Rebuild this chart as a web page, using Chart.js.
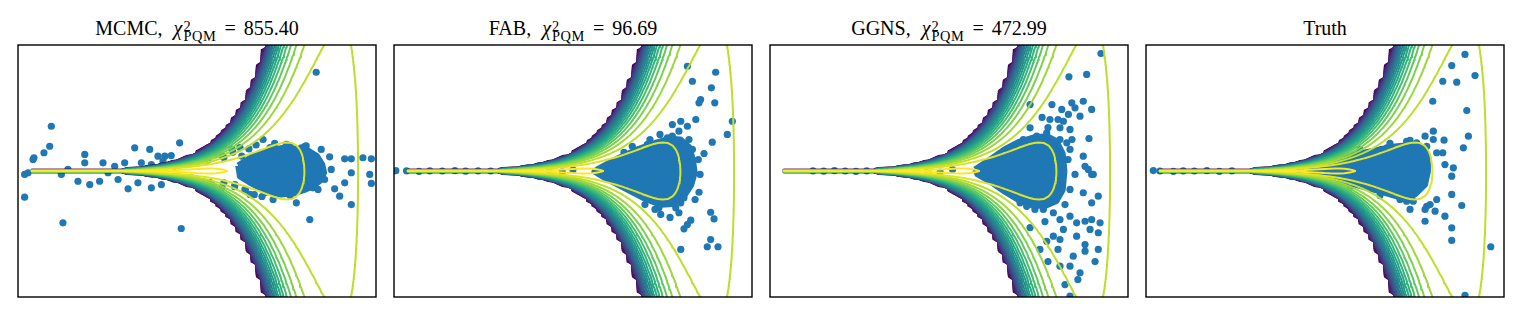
<!DOCTYPE html>
<html><head><meta charset="utf-8">
<script src="https://cdn.jsdelivr.net/npm/chart.js@4.4.0/dist/chart.umd.min.js"></script>
<style>
html,body{margin:0;padding:0;background:#fff;width:1522px;height:317px;overflow:hidden;position:relative}
.panel{position:absolute;width:366px;height:260px}
.title{position:absolute;top:18px;width:358px;text-align:center;font-family:'Liberation Serif','DejaVu Serif',serif;font-size:20px;line-height:20px;color:#000;white-space:nowrap}
.title i{font-style:italic;margin-left:11px}
.ss{position:relative;display:inline-block;font-size:0.72em;line-height:20px;margin-left:1px;letter-spacing:0.6px}
.ss .sub{position:relative;top:5.5px}
.ss .sup{position:absolute;left:0;top:-4.5px;line-height:20px}
.eq{margin:0 8px}
</style></head>
<body>
<script>
// ---------------- data ----------------
const V_LIMITS = [-10, 10];
const X_LIMITS = [-80, 80];
const LEVELS = [-81,-77,-73,-69,-65,-61,-57,-53,-49,-45,-41,-37,-33,-29,-25,-21,-17,-13,-9,-5,-1];
const METHODS = ["MCMC", "FAB", "GGNS", "Truth"];
const CHI2 = ["855.40", "96.69", "472.99", null];

const MCMC_SAMPLES = [[-8.14,28.4],[-8.23,15.7],[-8.55,11.6],[-9.11,8.4],[-6.27,10.5],[-3.48,14.7],[-2.64,13.7],[-0.97,17.9],[6.66,62.7],[3.69,20],[4.34,17.5],[5.83,14.7],[6.94,13.7],[7.41,9.0],[8.25,7.7],[8.62,7.7],[9.27,8.4],[9.74,7.7],[-2.18,9.4],[-1.8,9.4],[-1.44,9.8],[3.78,10.5],[4.43,9.4],[5.46,10.5],[5.64,9.0],[-9.63,-2.2],[-9.44,-1.1],[-9.63,-16.6],[-7.49,-32.9],[-0.88,-36.5],[6.30,-30.8],[8.62,-21.3],[7.97,-16],[5.55,-20.2],[4.25,-18.1],[3.78,-13.8],[4.53,-11.7],[5.08,-12.8],[9.74,-7.9],[9.65,-2.2],[7.69,-11.3],[6.48,-10.7],[6.76,-11.7],[7.13,-5.4],[7.50,1.0],[8.25,-7.5],[8.62,-1.1],[-7.58,-2.2],[-7.21,1],[-6.65,-6.5],[-5.99,-8.6],[-5.44,-6.5],[-4.97,-1.1],[-4.41,-5.4],[-3.85,-11.3],[-3.3,-7.5],[-2.55,-10.7],[-1.99,-8.6],[-1.25,-5.4],[-0.32,-4.3],[-9.16,7.3],[-6.27,5.2],[-5.25,5.2],[-4.6,3],[-4.04,5.2],[-3.11,5.2],[-2.55,4.1],[-1.9,6.2],[-1.25,3],[-0.3,8.5],[0.2,10.5],[0.6,7],[1.0,11],[1.5,8.5],[2.0,12],[2.5,9.5],[0.3,-7],[0.9,-9.5],[1.5,-7.5],[2.1,-10],[2.7,-12],[3.2,-15],[2.9,14],[3.3,16.5],[5.0,17],[6.1,16],[0.34,9.2],[0.84,11.7],[1.4,9.8],[1.96,13.7],[2.4,14.9],[0.17,-9.2],[0.73,-7.3],[1.4,-10.5],[2.12,-8.6],[2.68,-11.7],[2.96,-14.9],[3.63,-16.2],[5.2,-15.6],[5.75,-11.7],[6.3,-6.7],[6.76,-2.2],[6.87,4.1],[6.03,15.6],[5.2,16.2],[4.08,14.9]];
const MCMC_BULK = [[2.3,3.5],[3.0,8.5],[3.6,12],[4.3,13.5],[4.9,15],[5.6,14],[6.2,13],[6.7,9.5],[7.0,4],[7.1,-1],[6.9,-6],[6.5,-9.5],[6.0,-12],[5.3,-14.5],[4.7,-15],[4.0,-13],[3.4,-10],[2.9,-7],[2.4,-3.5]];

const FAB_SAMPLES = [[6.39,66.5],[7.97,62.7],[6.67,57.0],[7.73,52.8],[7.13,45.4],[7.04,43.3],[7.92,43.3],[8.9,31.6],[8.62,23.2],[6.86,32.7],[6.02,31.6],[5.55,29.5],[6.39,28.4],[5.92,25.3],[6.48,20],[5.55,22.1],[5.27,21.1],[6.67,13.7],[7.32,11.1],[7.78,18.3],[4.15,16.8],[3.31,15.7],[2.85,11.9],[7.04,-13.5],[6.2,-17],[6.02,-20.2],[5.74,-23.4],[4.8,-23.4],[4.9,-27.6],[5.92,-26.5],[6.58,-31.2],[6.39,-34],[6.2,-36.7],[7.69,-26.2],[7.88,-30.4],[6.02,-49.8],[7.69,-43.5],[7.5,-48.1],[8.1,-48.1],[6.58,-7.5],[6.39,-3.3],[4.86,23.2],[4.3,20],[4.58,-24.4],[4.02,-21.3],[5.42,-29.5],[6.82,-18.1],[7.1,-2.2],[7.0,7.3],[-9.9,0.2],[-9.3,0.1],[-8.6,-0.2],[-8.0,0.1],[-7.3,0],[-6.6,0.2],[-6.0,-0.1],[-5.3,0.1],[-4.6,0],[-4.0,0.2],[-3.3,-0.2],[-2.6,0.3],[-2.0,-0.4],[-1.3,0.5],[-0.6,-0.6],[0.0,0.8]];
const FAB_BULK = [[1.5,2],[2.6,8.6],[3.6,13.7],[4.6,17.8],[5.4,20.5],[6.0,20],[6.5,15],[6.7,7],[6.8,-1],[6.6,-9],[6.2,-16],[5.6,-21],[4.9,-21.5],[4.0,-17.5],[2.9,-11],[1.8,-4.5],[1.2,-0.3]];

const GGNS_SAMPLES = [[8.49,74.6],[7.69,61.3],[6.7,59.8],[6.86,43.3],[7.5,44.3],[7.04,40.1],[7.97,39.1],[7.32,34.8],[7.82,20.6],[6.3,39.1],[6.39,31.6],[6.67,35.9],[5.64,32.7],[6.2,27.4],[5.46,24.3],[4.53,27.4],[6.76,26.4],[6.2,20],[6.58,17.9],[6.76,13.7],[7.5,9.4],[7.6,3],[8.06,-2.2],[7.78,1],[4.9,22.1],[4.15,20],[3.97,-20.2],[4.34,-22.4],[5.27,-24.4],[5.83,-26.5],[6.2,-30.8],[6.76,-28.7],[7.13,-32.9],[6.39,-37.1],[5.83,-41.4],[5.46,-44.6],[6.2,-43.5],[7.13,-41.4],[7.6,-31.9],[7.97,-30.8],[8.44,-32.9],[8.34,-39.2],[7.88,-37.1],[7.6,-50.9],[8.34,-49.8],[6.94,-54.1],[6.76,-60.4],[7.32,-64.6],[6.2,-60.4],[6.48,-72.1],[6.76,-79.5],[8.34,-16],[7.97,-20.2],[7.5,-13.8],[7.97,-2.2],[4.53,42.2],[5.2,34],[5.75,42.2],[6.09,32.7],[5.53,27.6],[4.86,20],[6.87,20],[6.65,7.3],[7.04,-2.2],[6.76,-11.7],[6.48,-21.3],[4.8,-24.4],[5.36,-32.1],[4.53,-35.9],[6.09,-49.8],[5.08,-49.8],[5.53,-57.5],[7.6,-46.7],[8.16,-57.5],[7.2,-68.9],[-7.6,0.1],[-7.0,-0.1],[-6.4,0.2],[-5.8,0],[-5.2,-0.2],[-4.6,0.1],[-4.0,0.3],[-3.3,-0.3],[-2.6,0.4],[-1.9,-0.5],[-1.2,0.6],[-0.5,-0.7],[0.2,0.9]];
const GGNS_BULK = [[1.45,1],[2.3,7.3],[3.1,13.7],[3.9,18.5],[4.8,21.5],[5.5,22],[6.0,19],[6.35,11],[6.45,0],[6.35,-12],[6.0,-19],[5.4,-22],[4.7,-22],[3.9,-18.5],[3.1,-13],[2.3,-6.7],[1.6,-2.2]];

const TRUTH_SAMPLES = [[7.82,74],[7.08,67],[8.38,60.6],[6.58,57],[7.36,56.4],[6.02,44.3],[7.92,38.4],[8.01,22.1],[7.73,14.7],[6.05,25.3],[5.59,22.1],[6.05,20],[6.65,19.6],[6.58,11.6],[6.24,11.6],[5.68,15.7],[5.12,17.9],[4.56,18.9],[3.45,14.7],[3.17,13.7],[6.7,4.1],[7.17,2],[7.08,-3.3],[7.08,-14.9],[6.24,-18.1],[5.87,-21.3],[5.68,-22.4],[4.93,-19.2],[7.64,-21.9],[4.75,-24.4],[5.59,-24.4],[6.15,-25.5],[6.7,-28.7],[5.59,-31.9],[7.08,-36.1],[7.08,-44.1],[9.26,-48.1],[7.82,-79],[4.56,-19.2],[4.84,-16],[-1.4,4.1],[0.28,8.6],[1.96,13.7],[3.63,17.5],[4.75,19.4],[1.4,-10.5],[3.07,-15.6],[4.19,-18.1],[-9.59,0.3],[-9.22,0],[-8.47,-0.2],[-7.92,0.1],[-7.3,0],[-6.6,0.2],[-5.9,-0.2],[-5.2,0.1]];
const TRUTH_BULK = [[-2.51,1],[-1.96,2.9],[-0.84,5.4],[0.84,8.6],[2.51,12.4],[3.91,15.6],[5.03,16.8],[5.59,13.7],[5.75,7.3],[5.75,-0.3],[5.59,-8.6],[5.03,-14.9],[4.19,-16.8],[3.07,-13],[1.68,-8.6],[0.28,-5.4],[-1.12,-2.9],[-2.23,-1.6]];

const SAMPLES = [MCMC_SAMPLES, FAB_SAMPLES, GGNS_SAMPLES, TRUTH_SAMPLES];
const BULKS = [MCMC_BULK, FAB_BULK, GGNS_BULK, TRUTH_BULK];

// ---------------- style / layout ----------------
const PANEL_LEFT = [18, 394, 770, 1146];
const PANEL_W = 358, PANEL_H = 252, PANEL_TOP = 45, PAD = 4;
const SAMPLE_COLOR = '#1f77b4';
const VIRIDIS = ['#440154','#482878','#3e4989','#31688e','#26828e','#1f9e89','#35b779','#6ece58','#b5de2b','#fde725'];
// evaluation grid of the funnel log-density (tail values clamped)
const GRID = {v0: -9.23, v1: 9.20, nv: 67, x0: -81.6, x1: 81.6, nx: 103, floorAt: -84, floorVal: -170};

function hex(c){return [1,3,5].map(i=>parseInt(c.substr(i,2),16));}
function viridis(t){
  t = Math.max(0, Math.min(1, t));
  const s = t*(VIRIDIS.length-1), i = Math.min(VIRIDIS.length-2, Math.floor(s)), f = s - i;
  const a = hex(VIRIDIS[i]), b = hex(VIRIDIS[i+1]);
  return 'rgb(' + a.map((v,k)=>Math.round(v+(b[k]-v)*f)).join(',') + ')';
}
function logDensity(v, x){ return -v*v/18 - v/2 - x*x/(2*Math.exp(v)); }

function buildGrid(){
  const vs=[], xs=[];
  for(let j=0;j<GRID.nv;j++) vs.push(GRID.v0 + j*(GRID.v1-GRID.v0)/(GRID.nv-1));
  for(let i=0;i<GRID.nx;i++) xs.push(GRID.x0 + i*(GRID.x1-GRID.x0)/(GRID.nx-1));
  const g = xs.map(x => vs.map(v => { const f = logDensity(v,x); return f < GRID.floorAt ? GRID.floorVal : f; }));
  return {vs, xs, g};
}
const GAP = {x: NaN, y: NaN};
function contourPoints(G, level){
  const {vs, xs, g} = G, out = [];
  for(let i=0;i<xs.length-1;i++) for(let j=0;j<vs.length-1;j++){
    const c = [{x:vs[j],y:xs[i],f:g[i][j]},{x:vs[j+1],y:xs[i],f:g[i][j+1]},{x:vs[j+1],y:xs[i+1],f:g[i+1][j+1]},{x:vs[j],y:xs[i+1],f:g[i+1][j]}];
    const pts = [];
    for(let e=0;e<4;e++){
      const a=c[e], b=c[(e+1)%4];
      if((a.f>=level)!==(b.f>=level)){
        const t=(level-a.f)/(b.f-a.f);
        pts.push({x:a.x+t*(b.x-a.x), y:a.y+t*(b.y-a.y)});
      }
    }
    if(pts.length===2){ out.push(pts[0],pts[1],GAP); }
    else if(pts.length===4){
      const center=(c[0].f+c[1].f+c[2].f+c[3].f)/4;
      if((center>=level)===(c[0].f>=level)) out.push(pts[0],pts[1],GAP,pts[2],pts[3],GAP);
      else out.push(pts[0],pts[3],GAP,pts[1],pts[2],GAP);
    }
  }
  return out;
}
const G = buildGrid();
const CONTOURS = LEVELS.map(L => contourPoints(G, L));
const lmin = Math.min(...LEVELS), lmax = Math.max(...LEVELS);

const framePlugin = {id:'frame', afterDraw(chart){
  const {ctx, chartArea:a} = chart; ctx.save(); ctx.strokeStyle='#000'; ctx.lineWidth=1.4;
  ctx.strokeRect(a.left, a.top, a.right-a.left, a.bottom-a.top); ctx.restore();
}};

METHODS.forEach((name, p) => {
  const left = PANEL_LEFT[p];
  const title = document.createElement('div');
  title.className = 'title';
  title.style.left = left + 'px';
  title.innerHTML = CHI2[p] === null ? name :
    name + ',<i>χ</i><span class="ss"><span class="sup">2</span><span class="sub">PQM</span></span><span class="eq">=</span>' + CHI2[p];
  document.body.appendChild(title);

  const wrap = document.createElement('div');
  wrap.className = 'panel';
  wrap.style.left = (left - PAD) + 'px';
  wrap.style.top = (PANEL_TOP - PAD) + 'px';
  const cv = document.createElement('canvas');
  cv.width = PANEL_W + 2*PAD; cv.height = PANEL_H + 2*PAD;
  wrap.appendChild(cv); document.body.appendChild(wrap);

  const datasets = [];
  LEVELS.forEach((L, k) => {
    datasets.push({data: CONTOURS[k].slice(), showLine: true, borderColor: viridis((L-lmin)/(lmax-lmin)),
      borderWidth: 2, pointRadius: 0, fill: false, spanGaps: false, clip: 0, order: LEVELS.length-1-k,
      borderCapStyle: 'round', borderJoinStyle: 'round'});
  });
  datasets.push({data: SAMPLES[p].map(([v,x]) => ({x:v, y:x})), showLine: false, pointRadius: 3.6,
    pointBackgroundColor: SAMPLE_COLOR, pointBorderWidth: 0, clip: 0, order: 100});
  const bulk = BULKS[p].map(([v,x]) => ({x:v, y:x})); bulk.push({...bulk[0]});
  datasets.push({data: bulk, showLine: true, fill: 'shape', backgroundColor: SAMPLE_COLOR, borderColor: SAMPLE_COLOR,
    borderWidth: 6, borderJoinStyle: 'round', pointRadius: 0, clip: 0, order: 101});

  new Chart(cv, {type: 'line', data: {datasets},
    options: {responsive: false, animation: false, devicePixelRatio: 1, events: [],
      layout: {padding: PAD},
      plugins: {legend: {display: false}, tooltip: {enabled: false}},
      elements: {line: {tension: 0}},
      scales: {x: {type: 'linear', min: V_LIMITS[0], max: V_LIMITS[1], display: false},
               y: {type: 'linear', min: X_LIMITS[0], max: X_LIMITS[1], display: false}}},
    plugins: [framePlugin]});
});
</script>
</body></html>
